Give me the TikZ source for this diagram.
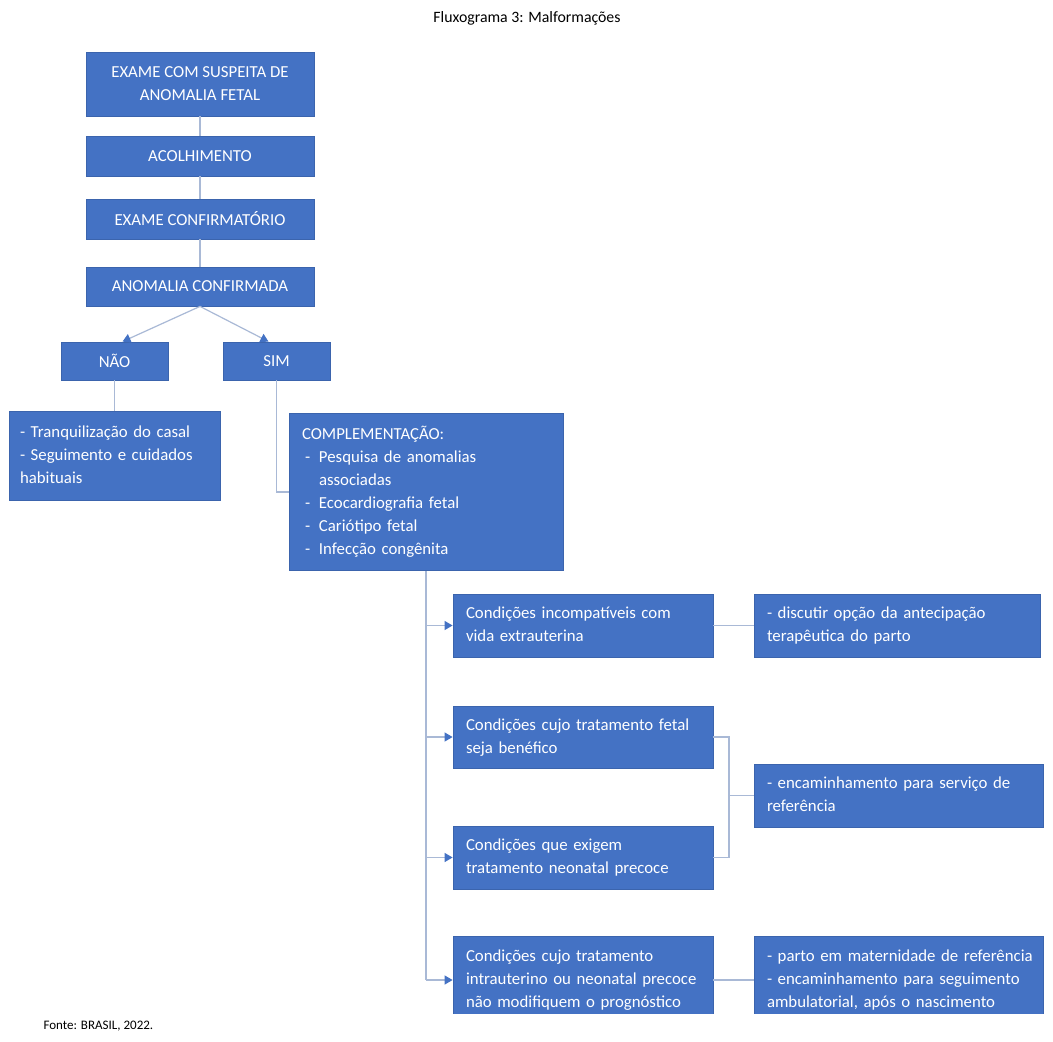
\documentclass[tikz,border=0pt]{standalone}
\usepackage{fontspec}
\setmainfont{Carlito}
\usetikzlibrary{arrows.meta}
\definecolor{boxblue}{HTML}{4472C4}
\definecolor{boxedge}{HTML}{3B64AD}
\definecolor{linegray}{HTML}{A9B9D6}
\newcommand{\itm}{\hspace*{3pt}\makebox[14pt][l]{-}}
\newcommand{\ind}{\hspace*{17pt}}
\newcommand{\tl}[1]{\begin{tabular}{@{}l@{}}#1\end{tabular}}
\newcommand{\tc}[1]{\begin{tabular}{@{}c@{}}#1\end{tabular}}
\begin{document}
\begin{tikzpicture}[x=1pt,y=-1pt,
  box/.style={draw=boxedge, line width=0.8pt, fill=boxblue, text=white, inner sep=0pt, font=\fontsize{16.8}{23}\selectfont},
  cbox/.style={box, align=center},
  lbox/.style={box, align=left},
  conn/.style={draw=linegray, line width=1.2pt},
  arr/.style={conn, -{Triangle[length=8pt,width=9pt,color=boxblue]}},
]
\useasboundingbox (0,0) rectangle (1053,1042);
\fill[white] (0,0) rectangle (1053,1042);

\node (title) at (527,18) {\fontsize{15.8}{18}\selectfont Fluxograma 3: Malformações};
\node[anchor=west] (fonte) at (40,1026) {\fontsize{13}{15}\selectfont Fonte: BRASIL, 2022.};

\node[cbox, minimum width=228, minimum height=64] (b1) at (200,84) {\tc{EXAME COM SUSPEITA DE\\ANOMALIA FETAL}};
\node[cbox, minimum width=228, minimum height=40] (b2) at (200,156) {ACOLHIMENTO};
\node[cbox, minimum width=228, minimum height=40] (b3) at (200,219) {EXAME CONFIRMATÓRIO};
\node[cbox, minimum width=228, minimum height=39] (b4) at (200,286.5) {ANOMALIA CONFIRMADA};
\node[cbox, minimum width=107, minimum height=38] (nao) at (114.5,361) {NÃO};
\node[cbox, minimum width=107, minimum height=38] (sim) at (276.5,361) {SIM};

\node[lbox, text width=189, minimum width=211, minimum height=89] (tranq) at (114.5,455.5)
  {\tl{- Tranquilização do casal\\- Seguimento e cuidados\\habituais}};
\node[lbox, text width=248, minimum width=274, minimum height=157] (compl) at (426,492)
  {\tl{COMPLEMENTAÇÃO:\\\itm Pesquisa de anomalias\\\ind associadas\\\itm Ecocardiografia fetal\\\itm Cariótipo fetal\\\itm Infecção congênita}};

\node[lbox, text width=234, minimum width=260, minimum height=63] (c1) at (583,625.5)
  {\tl{Condições incompatíveis com\\vida extrauterina}};
\node[lbox, text width=260, minimum width=286, minimum height=63] (d1) at (897,625.5)
  {\tl{- discutir opção da antecipação\\terapêutica do parto}};
\node[lbox, text width=234, minimum width=260, minimum height=62] (c2) at (583,737)
  {\tl{Condições cujo tratamento fetal\\seja benéfico}};
\node[lbox, text width=234, minimum width=260, minimum height=63] (c3) at (583,857.5)
  {\tl{Condições que exigem\\tratamento neonatal precoce}};
\node[lbox, text width=263, minimum width=289, minimum height=63] (d2) at (898.5,795.5)
  {\tl{- encaminhamento para serviço de\\referência}};
\begin{scope}
\clip (0,0) rectangle (1053,1013.5);
\node[lbox, text width=234, minimum width=260, minimum height=88] (c4) at (583,980)
  {\tl{Condições cujo tratamento\\intrauterino ou neonatal precoce\\não modifiquem o prognóstico}};
\node[lbox, text width=263, minimum width=289, minimum height=88] (d3) at (898.5,980)
  {\tl{- parto em maternidade de referência\\- encaminhamento para seguimento\\ambulatorial, após o nascimento}};
\end{scope}

% connectors
\draw[conn] (b1.south) -- (b2.north);
\draw[conn] (b2.south) -- (b3.north);
\draw[conn] (b3.south) -- (b4.north);
\draw[arr] (b4.south) -- ([xshift=8pt]nao.north);
\draw[arr] (b4.south) -- ([xshift=-8pt]sim.north);
\draw[conn] (nao.south) -- (tranq.north);
\draw[conn] (sim.south) |- (compl.west);

\draw[conn] (compl.south) -- (compl.south |- c4.west);
\draw[arr] (compl.south |- c1.west) -- (c1.west);
\draw[arr] (compl.south |- c2.west) -- (c2.west);
\draw[arr] (compl.south |- c3.west) -- (c3.west);
\draw[arr] (compl.south |- c4.west) -- (c4.west);

\draw[conn] (c1.east) -- (d1.west);
\coordinate (j) at (729,795.5);
\draw[conn] (c2.east) -| (j) |- (c3.east);
\draw[conn] (j) -- (d2.west);
\draw[conn] (c4.east) -- (d3.west);
\end{tikzpicture}
\end{document}
